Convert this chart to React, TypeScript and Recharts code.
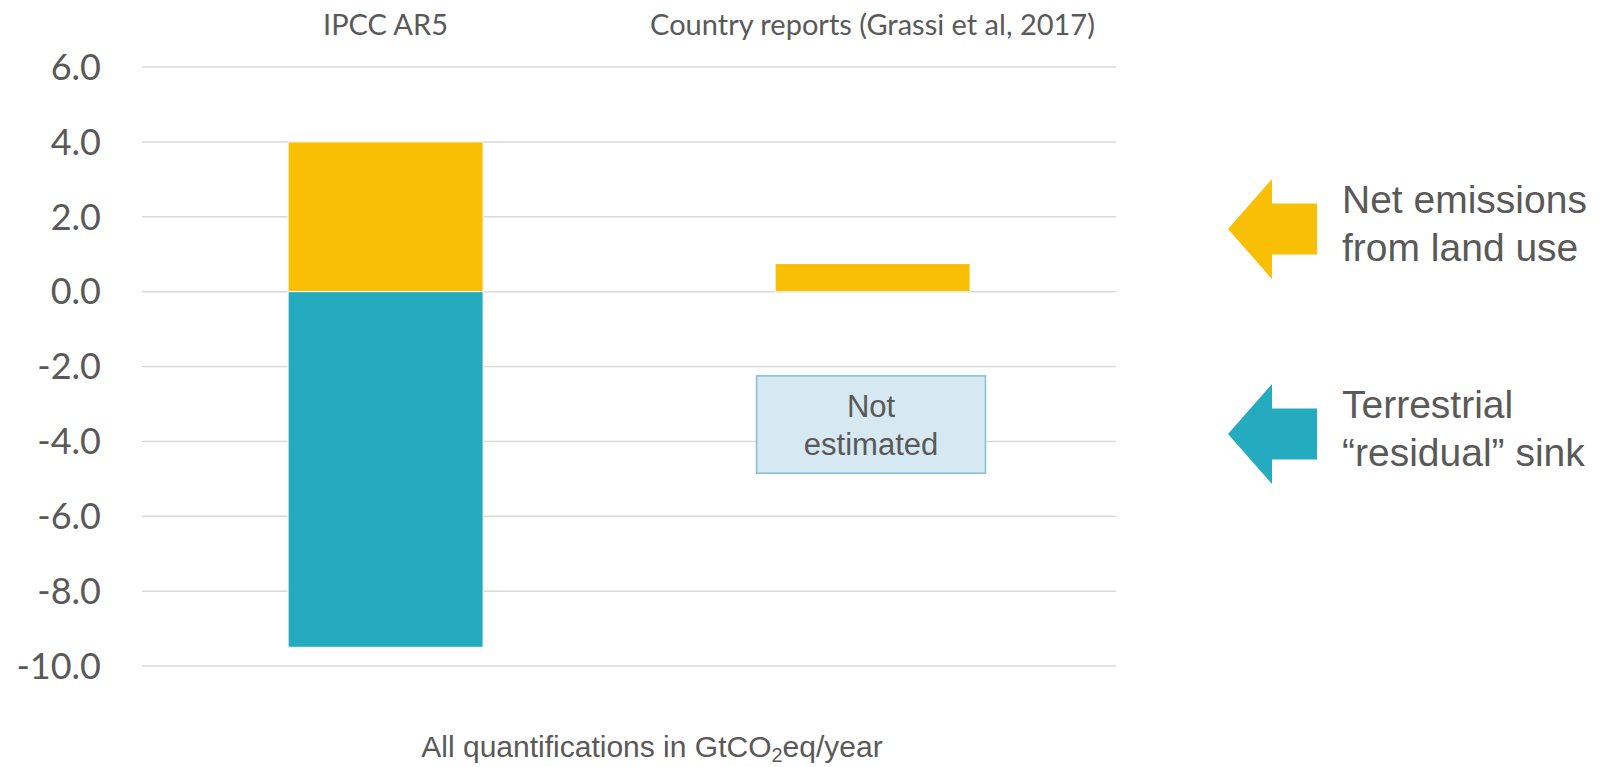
import { Bar, BarChart, CartesianGrid, ReferenceArea, XAxis, YAxis } from "recharts"

const categories = ["IPCC AR5", "Country reports (Grassi et al, 2017)"]
const netEmissions = [4.0, 0.75]
const residualSink = [-9.5, null]
const yTicks = [-10, -8, -6, -4, -2, 0, 2, 4, 6]

const notEstimated = {
  category: categories[1],
  from: -2.25,
  to: -4.85,
  lines: ["Not", "estimated"],
}

const legendItems = [
  { lines: ["Net emissions", "from land use"], color: "#F8BF04" },
  { lines: ["Terrestrial", "\u201Cresidual\u201D sink"], color: "#25ABBF" },
]

const data = categories.map((name, i) => ({
  name,
  net: netEmissions[i],
  sink: residualSink[i],
}))

const gray = "#595959"
const calibriLike = "Lato, 'Open Sans', sans-serif"
const arialLike = "'Liberation Sans', Arial, sans-serif"

function NotEstimatedBox(props: any) {
  const { x, y, width, height } = props
  const bx = x + width * 0.262
  const bw = width * 0.47
  const cx = bx + bw / 2
  return (
    <g>
      <rect x={bx} y={y} width={bw} height={height} fill="#D6E8F1" stroke="#7EC0D6" strokeWidth={1.5} />
      {notEstimated.lines.map((line, i) => (
        <text
          key={line}
          x={cx}
          y={y + 41 + i * 38}
          textAnchor="middle"
          fill={gray}
          fontSize={31}
          fontFamily={arialLike}
        >
          {line}
        </text>
      ))}
    </g>
  )
}

function SideLegend() {
  // arrow shape relative to its tip
  const arrow = "0,0 44,-50 44,-25.5 89,-25.5 89,25.5 44,25.5 44,50"
  return (
    <svg width={1609} height={767} style={{ position: "absolute", left: 0, top: 0, pointerEvents: "none" }}>
      {legendItems.map((item, i) => {
        const tipY = 229 + i * 205
        return (
          <g key={item.color}>
            <polygon points={arrow} transform={`translate(1228, ${tipY})`} fill={item.color} />
            {item.lines.map((line, j) => (
              <text key={line} x={1342} y={tipY - 16 + j * 48} fill={gray} fontSize={39} fontFamily={arialLike}>
                {line}
              </text>
            ))}
          </g>
        )
      })}
      <text x={652} y={757} textAnchor="middle" fill={gray} fontSize={30} fontFamily={arialLike}>
        All quantifications in GtCO
        <tspan fontSize={20} dy={5}>2</tspan>
        <tspan dy={-5}>eq/year</tspan>
      </text>
    </svg>
  )
}

export default function App() {
  return (
    <div style={{ position: "absolute", left: 0, top: 0, width: 1609, height: 767, background: "#fff" }}>
      <BarChart
        width={1609}
        height={767}
        data={data}
        stackOffset="sign"
        barCategoryGap="30%"
        margin={{ top: 27, right: 493, bottom: 101, left: 0 }}
      >
        <CartesianGrid vertical={false} stroke="#D9D9D9" strokeWidth={1.5} />
        <XAxis
          dataKey="name"
          orientation="top"
          height={40}
          axisLine={false}
          tickLine={false}
          tickSize={0}
          tickMargin={32}
          interval={0}
          tick={{ fill: gray, fontSize: 29, fontFamily: calibriLike }}
        />
        <YAxis
          type="number"
          domain={[-10, 6]}
          ticks={yTicks}
          width={142}
          axisLine={false}
          tickLine={false}
          tickSize={0}
          tickMargin={41}
          tickFormatter={(v: number) => v.toFixed(1)}
          tick={{ fill: gray, fontSize: 36, fontFamily: calibriLike }}
        />
        <Bar dataKey="net" stackId="a" fill="#F8BF04" stroke="#fff" strokeWidth={1} isAnimationActive={false} />
        <Bar dataKey="sink" stackId="a" fill="#25ABBF" stroke="#fff" strokeWidth={1} isAnimationActive={false} />
        <ReferenceArea
          x1={notEstimated.category}
          x2={notEstimated.category}
          y1={notEstimated.from}
          y2={notEstimated.to}
          shape={NotEstimatedBox}
        />
      </BarChart>
      <SideLegend />
    </div>
  )
}
